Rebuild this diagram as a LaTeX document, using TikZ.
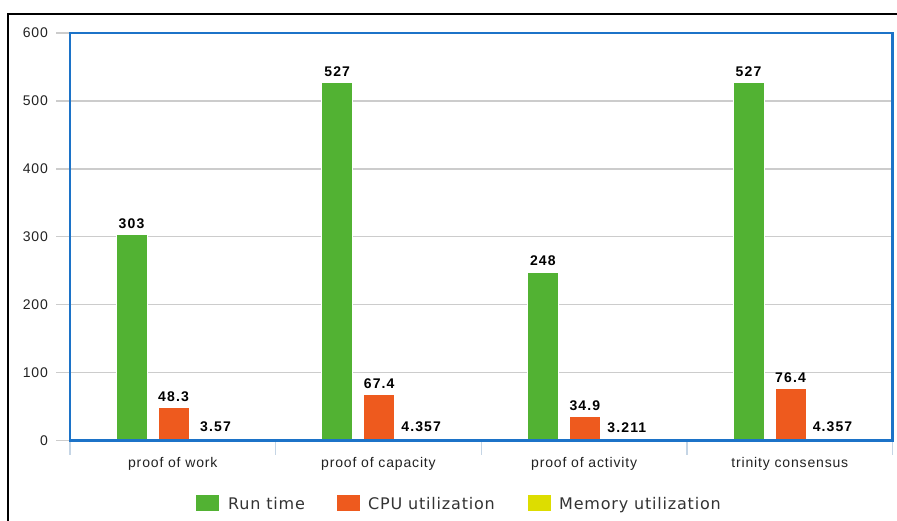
\documentclass[tikz,border=0pt]{standalone}
\usepackage{fontspec}
\newfontfamily\axisfont[LetterSpace=6]{Liberation Sans}
\newfontfamily\valfont[LetterSpace=8]{Liberation Sans}
\newfontfamily\legfont[LetterSpace=5]{DejaVu Sans}
\definecolor{rungreen}{HTML}{52B233}
\definecolor{cpuorange}{HTML}{EE5A1E}
\definecolor{memyellow}{HTML}{DDDD00}
\definecolor{frameblue}{HTML}{1C73C8}
\definecolor{gridgray}{HTML}{CCCCCC}
\definecolor{tickblue}{HTML}{C5D5E5}
\definecolor{textdark}{HTML}{222222}
\definecolor{legdark}{HTML}{333333}
\tikzset{
  gridline/.style={gridgray, line width=1.2pt},
  ylab/.style={anchor=east, inner sep=0pt, font=\axisfont\fontsize{14}{16}\selectfont, text=textdark},
  catlab/.style={anchor=base, inner sep=0pt, font=\axisfont\fontsize{14}{16}\selectfont, text=textdark},
  vallab/.style={anchor=base, inner sep=0pt, font=\valfont\bfseries\fontsize{14}{16}\selectfont, text=black},
  barbox/.style={draw=white, line width=1pt},
  legsq/.style={minimum width=24pt, minimum height=17pt, inner sep=0pt, draw=white, line width=0.8pt},
  legtext/.style={anchor=base west, inner sep=0pt, font=\legfont\fontsize{16}{18}\selectfont, text=legdark},
  tickline/.style={tickblue, line width=1.5pt}
}
\begin{document}
\begin{tikzpicture}[x=1pt,y=-1pt]
\useasboundingbox (0,0) rectangle (897,520);
\fill[white] (0,0) rectangle (897,520);
% outer black frame (clipped)
\draw[line width=2pt] (8,521) -- (8,14) -- (898,14);
% grid lines and y labels
\foreach \v in {0,100,...,600} {
  \pgfmathsetmacro{\yy}{440.7-\v*0.6795}
  \draw[gridline] (56,\yy) -- (892.7,\yy);
  \node[ylab] (ylab\v) at (48,\yy) {\v};
}
% category ticks
\foreach \k in {0,...,4} {
  \pgfmathsetmacro{\xx}{70+\k*205.67}
  \draw[tickline] (\xx,441) -- (\xx,455);
}
% bars and value labels (memory bars are too low to show above the axis)
\foreach \i/\cat/\a/\la/\b/\lb/\c/\lc in {
  0/proof of work/303/303/48.3/48.3/3.57/3.57,
  1/proof of capacity/527/527/67.4/67.4/4.357/4.357,
  2/proof of activity/248/248/34.9/34.9/3.211/3.211,
  3/trinity consensus/527/527/76.4/76.4/4.357/4.357} {
  \pgfmathsetmacro{\xa}{70+\i*205.67+46}
  \pgfmathsetmacro{\xb}{\xa+42}
  \pgfmathsetmacro{\xc}{\xa+84}
  \pgfmathsetmacro{\ya}{440.7-\a*0.6795}
  \pgfmathsetmacro{\yb}{440.7-\b*0.6795}
  \pgfmathsetmacro{\yc}{440.7-\c*0.6795}
  \filldraw[barbox, fill=rungreen] (\xa,440.7) rectangle ({\xa+31},\ya);
  \filldraw[barbox, fill=cpuorange] (\xb,440.7) rectangle ({\xb+31},\yb);
  \node[vallab] (va\i) at ({\xa+15.5},{\ya-6.5}) {\la};
  \node[vallab] (vb\i) at ({\xb+15.5},{\yb-6.5}) {\lb};
  \node[vallab] (vc\i) at ({\xc+15.5},{\yc-6.5}) {\lc};
  \node[catlab] (cat\i) at ({70+\i*205.67+102.8},467) {\cat};
}
% plot frame
\draw[frameblue, line width=2.5pt] (70,33) rectangle (892.7,440.7);
% legend
\node[legsq, fill=rungreen] (lsq1) at (207,503) {};
\node[legtext] (ltx1) at (228,509) {Run time};
\node[legsq, fill=cpuorange] (lsq2) at (348.5,503) {};
\node[legtext] (ltx2) at (368,509) {CPU utilization};
\node[legsq, fill=memyellow] (lsq3) at (539,503) {};
\node[legtext] (ltx3) at (559,509) {Memory utilization};
\end{tikzpicture}
\end{document}
